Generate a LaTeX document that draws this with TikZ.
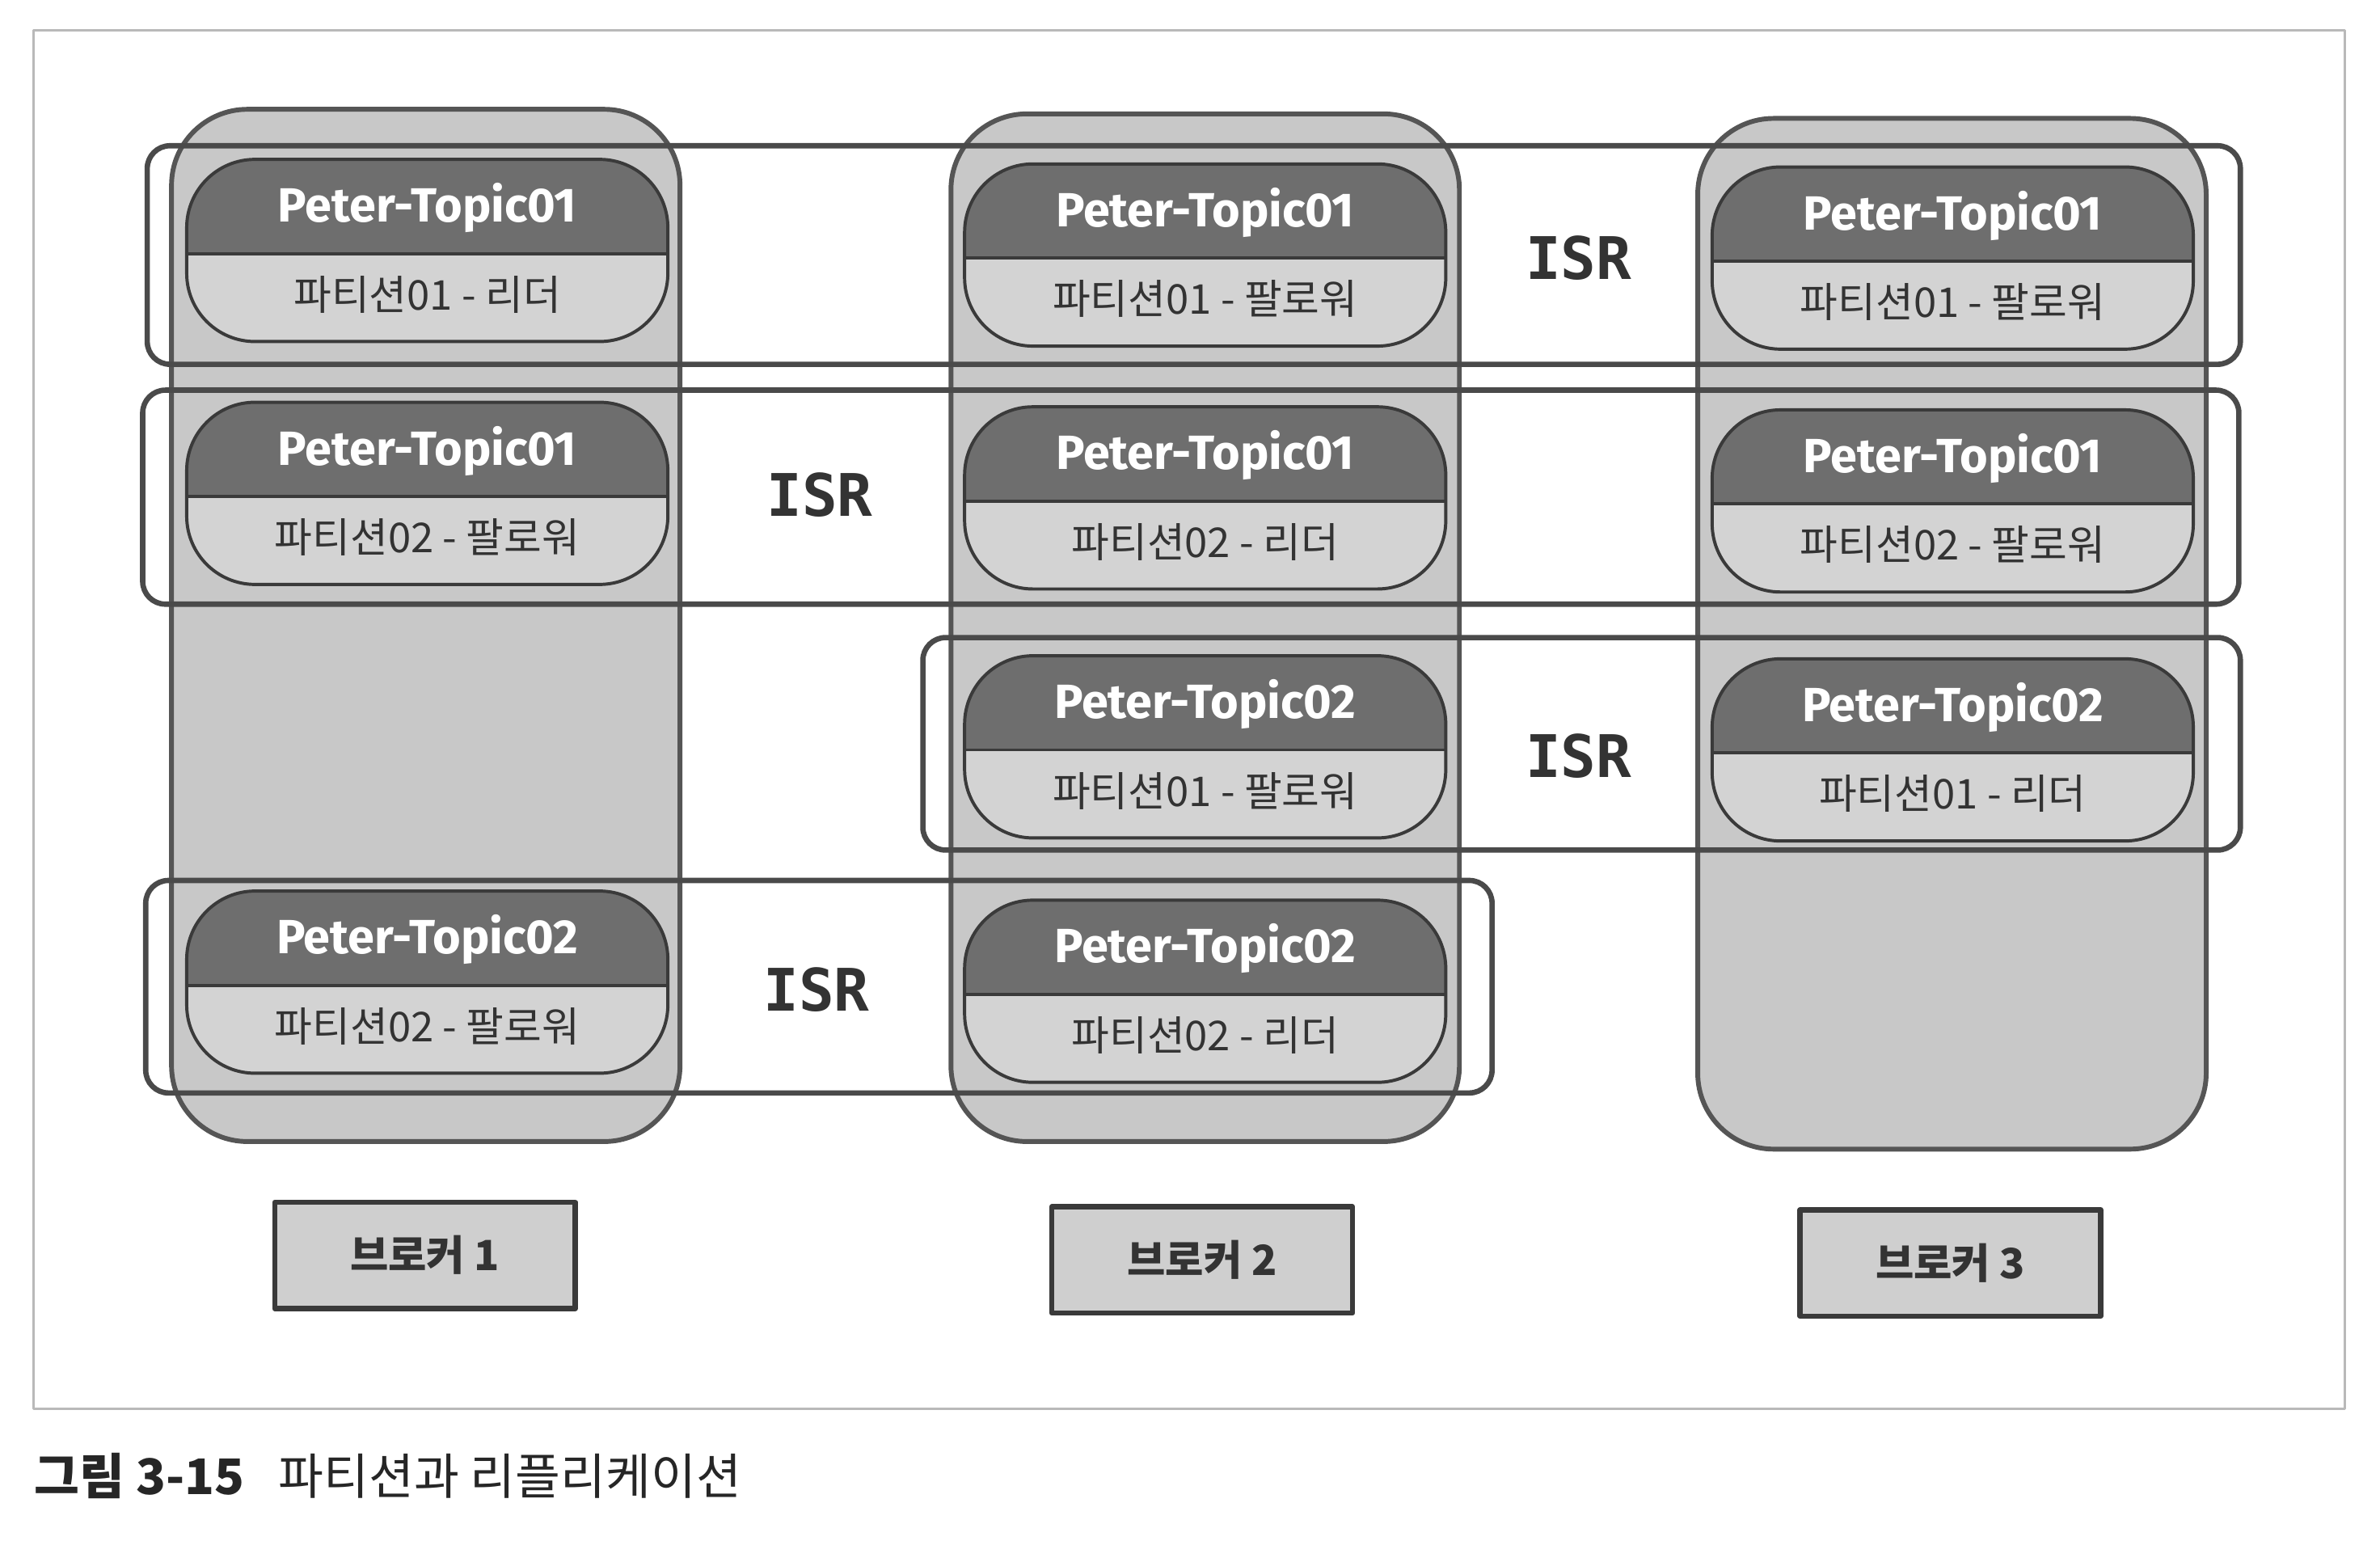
\documentclass[tikz,border=0pt]{standalone}
\usepackage{fontspec}
\setmainfont{Fira Sans}
\newfontfamily\krfont{Noto Sans CJK KR}
\newfontfamily\topicfont{Fira Sans}
\newfontfamily\isrfont{DejaVu Sans Mono}
\usepackage{tikz}
\usetikzlibrary{calc}

\definecolor{colfill}{HTML}{C8C8C8}
\definecolor{colline}{HTML}{555555}
\definecolor{pilltop}{HTML}{6E6E6E}
\definecolor{pillbot}{HTML}{D3D3D3}
\definecolor{pillline}{HTML}{3A3A3A}
\definecolor{isrline}{HTML}{4A4A4A}
\definecolor{boxfill}{HTML}{CFCFCF}
\definecolor{inktext}{HTML}{333333}

\begin{document}
\begin{tikzpicture}[x=0.1mm, y=-0.1mm, line join=round,
  broker/.style={draw=colline, line width=0.9pt, fill=colfill, rounded corners=5mm,
    minimum width=33.5mm, inner sep=0pt},
  pill/.style={draw=pillline, line width=0.6pt, fill=pillbot, rounded corners=4.5mm,
    minimum width=31.7mm, minimum height=12mm, inner sep=0pt,
    path picture={
      \fill[pilltop, sharp corners] (path picture bounding box.north west) rectangle ([yshift=-6.2mm]path picture bounding box.north east);
      \draw[pillline, line width=0.6pt, sharp corners] ([yshift=-6.2mm]path picture bounding box.north west) -- ([yshift=-6.2mm]path picture bounding box.north east);}},
  toptext/.style={text=white, font=\topicfont\bfseries\fontsize{9}{10}\selectfont, inner sep=0pt},
  roletext/.style={text=inktext, font=\krfont\fontsize{7.7}{9}\selectfont, inner sep=0pt},
  isrbox/.style={draw=isrline, line width=1pt, rounded corners=1.5mm},
  isrlabel/.style={text=inktext, font=\isrfont\bfseries\fontsize{11}{12}\selectfont, inner sep=0pt},
  brokerlabel/.style={draw=pillline, line width=1pt, fill=boxfill, minimum width=19.8mm,
    minimum height=7mm, text=inktext, font=\krfont\bfseries\fontsize{7.8}{9}\selectfont},
  frameline/.style={draw=gray!55, line width=0.5pt},
  caption/.style={text=black!85, font=\krfont\fontsize{9.2}{11}\selectfont, inner sep=0pt}]

  \useasboundingbox (0,0) rectangle (1568,1015);

  %--- outer frame ---------------------------------------------------------
  \draw[frameline] (22,20) rectangle (1545,928);

  %--- broker columns ------------------------------------------------------
  \node[broker, minimum height=68mm]   (b1) at (280.5,412)   {};
  \node[broker, minimum height=67.7mm] (b2) at (794,413.5)   {};
  \node[broker, minimum height=67.9mm] (b3) at (1286,417.5)  {};

  %--- partitions ----------------------------------------------------------
  \foreach \nm/\x/\y/\tp/\rl in {
      p11/281.5/165/Peter-Topic01/{파티션01 - 리더},
      p12/281.5/325/Peter-Topic01/{파티션02 - 팔로워},
      p14/281.5/647/Peter-Topic02/{파티션02 - 팔로워},
      p21/794/168/Peter-Topic01/{파티션01 - 팔로워},
      p22/794/328/Peter-Topic01/{파티션02 - 리더},
      p23/794/492/Peter-Topic02/{파티션01 - 팔로워},
      p24/794/653/Peter-Topic02/{파티션02 - 리더},
      p31/1286.5/170/Peter-Topic01/{파티션01 - 팔로워},
      p32/1286.5/330/Peter-Topic01/{파티션02 - 팔로워},
      p33/1286.5/494/Peter-Topic02/{파티션01 - 리더}}{
    \node[pill] (\nm) at (\x,\y) {};
    \node[toptext]  (\nm-t) at ([yshift=-3.3mm]\nm.north) {\tp};
    \node[roletext] (\nm-r) at ([yshift=-9mm]\nm.north) {\rl};
  }

  %--- ISR groups ----------------------------------------------------------
  \draw[isrbox] (97,96) rectangle (1476,240);
  \draw[isrbox] (94,257) rectangle (1475,398);
  \draw[isrbox] (608,420) rectangle (1476,560);
  \draw[isrbox] (96,580) rectangle (983,720);

  \node[isrlabel] (isr1) at (1040,170) {ISR};
  \node[isrlabel] (isr2) at (540,326)  {ISR};
  \node[isrlabel] (isr3) at (1040,498) {ISR};
  \node[isrlabel] (isr4) at (538,652)  {ISR};

  %--- broker names --------------------------------------------------------
  \node[brokerlabel] (l1) at (280,827)  {브로커 1};
  \node[brokerlabel] (l2) at (792,830)  {브로커 2};
  \node[brokerlabel] (l3) at (1285,832) {브로커 3};

  % caption
  \node[caption, anchor=west] (cap) at (22,972) {\textbf{그림 3-15}\hspace{0.7em}파티션과 리플리케이션};
\end{tikzpicture}
\end{document}
